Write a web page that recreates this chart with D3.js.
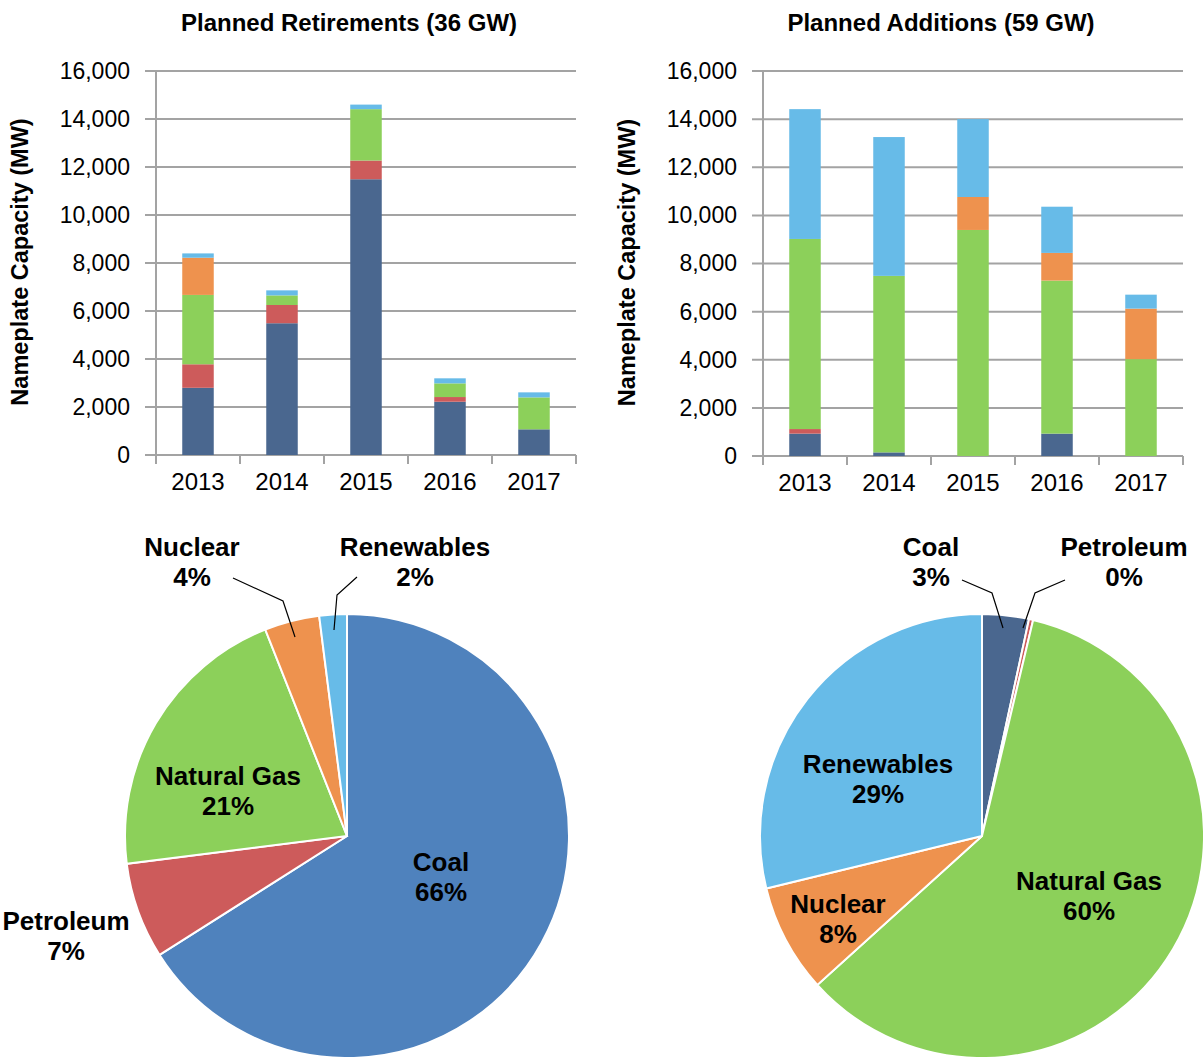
<!DOCTYPE html>
<html>
<head>
<meta charset="utf-8">
<script src="https://cdn.jsdelivr.net/npm/d3@7"></script>
<style>
  body { margin: 0; background: #fff; }
  text { font-family: "Liberation Sans", Arial, sans-serif; fill: #000; }
</style>
</head>
<body>
<div id="grafico"></div>
<script>
// datos
const years = ["2013", "2014", "2015", "2016", "2017"];
const fuels = ["Coal", "Petroleum", "Natural Gas", "Nuclear", "Renewables"];
const yTicks = [0, 2000, 4000, 6000, 8000, 10000, 12000, 14000, 16000];

// planned retirements (MW)
const retireCoal = [2800, 5490, 11490, 2220, 1070];
const retirePetroleum = [980, 760, 780, 195, 0];
const retireGas = [2890, 400, 2140, 570, 1330];
const retireNuclear = [1550, 0, 0, 0, 0];
const retireRenewables = [180, 210, 190, 210, 210];

// planned additions (MW)
const addCoal = [930, 150, 0, 930, 0];
const addPetroleum = [190, 0, 0, 0, 0];
const addGas = [7900, 7335, 9394, 6360, 4025];
const addNuclear = [0, 0, 1370, 1150, 2100];
const addRenewables = [5395, 5770, 3237, 1920, 580];

// shares shown in the pies (%)
const retireShare = [66, 7, 21, 4, 2];
const addShare = [3.4, 0.3, 59.6, 7.9, 28.8];
const retireShareLabels = ["66%", "7%", "21%", "4%", "2%"];
const addShareLabels = ["3%", "0%", "60%", "8%", "29%"];

// estilos
const barColors = ["#4A678F", "#CD5B5B", "#8CD05A", "#EE924E", "#67BBE8"];
const pieColorsLeft = ["#4F82BD", "#CD5B5B", "#8CD05A", "#EE924E", "#67BBE8"];
const GRID = "#a3a3a3";

const WIDTH = 1203;
const HEIGHT = 1057;
const PLOT_W = 420;

const SVG = d3.select("#grafico").append("svg").attr("width", WIDTH).attr("height", HEIGHT);

function rows(series) {
    return years.map(function(y, i) {
        var r = { year: y };
        fuels.forEach(function(f, k) { r[f] = series[k][i]; });
        return r;
    });
}

function barChart(left, top, h, title, titleShift, series) {
    var g = SVG.append("g").attr("transform", "translate(" + left + "," + top + ")");

    var x = d3.scaleBand().domain(years).range([0, PLOT_W]).paddingInner(0.625).paddingOuter(0.3125);
    var y = d3.scaleLinear().domain([0, 16000]).range([h, 0]);

    // gridlines + tick stubs
    g.selectAll(".grid").data(yTicks).enter().append("line")
        .attr("x1", -11).attr("x2", PLOT_W)
        .attr("y1", d => y(d)).attr("y2", d => y(d))
        .attr("stroke", GRID).attr("stroke-width", 2);

    var ejeY = d3.axisLeft(y).tickValues(yTicks).tickFormat(d3.format(",")).tickSize(0).tickPadding(26);
    g.append("g").call(ejeY).call(s => s.select(".domain").remove())
        .selectAll("text").style("font-size", "23px").attr("fill", "#111");

    var stack = d3.stack().keys(fuels)(rows(series));
    stack.forEach(function(layer, k) {
        g.selectAll(".b" + k).data(layer).enter().append("rect")
            .attr("x", d => x(d.data.year))
            .attr("y", d => y(d[1]))
            .attr("width", x.bandwidth())
            .attr("height", d => y(d[0]) - y(d[1]))
            .attr("fill", barColors[k]);
    });

    // ejes
    g.append("line").attr("x1", 0).attr("x2", 0).attr("y1", 0).attr("y2", h + 9)
        .attr("stroke", GRID).attr("stroke-width", 2);
    var step = x.step();
    g.selectAll(".xt").data(d3.range(1, years.length + 1)).enter().append("line")
        .attr("x1", d => d * step).attr("x2", d => d * step)
        .attr("y1", h).attr("y2", h + 9)
        .attr("stroke", GRID).attr("stroke-width", 2);

    var ejeX = d3.axisBottom(x).tickSize(0).tickPadding(18);
    g.append("g").attr("transform", "translate(0," + h + ")").call(ejeX)
        .call(s => s.select(".domain").remove())
        .selectAll("text").style("font-size", "24px").attr("fill", "#111");

    g.append("text")
        .attr("x", PLOT_W / 2 + titleShift).attr("y", -40)
        .attr("text-anchor", "middle")
        .style("font-size", "24px").style("font-weight", "bold")
        .text(title);

    g.append("text")
        .attr("transform", "translate(-128," + (h / 2 - 1) + ") rotate(-90)")
        .attr("text-anchor", "middle")
        .style("font-size", "23.5px").style("font-weight", "bold")
        .text("Nameplate Capacity (MW)");
}

barChart(156, 71, 384, "Planned Retirements (36 GW)", -17,
    [retireCoal, retirePetroleum, retireGas, retireNuclear, retireRenewables]);
barChart(763, 71, 385, "Planned Additions (59 GW)", -32,
    [addCoal, addPetroleum, addGas, addNuclear, addRenewables]);

// tortas
function pieChart(cx, cy, shares, colors, pctLabels, labelPos, leaders) {
    var g = SVG.append("g").attr("transform", "translate(" + cx + "," + cy + ")");
    var pie = d3.pie().sort(null);
    var arco = d3.arc().innerRadius(0).outerRadius(222);

    g.selectAll("path").data(pie(shares)).enter().append("path")
        .attr("d", arco)
        .attr("fill", (d, i) => colors[i])
        .attr("stroke", "#fff").attr("stroke-width", 2);

    g.selectAll(".leader").data(leaders).enter().append("polyline")
        .attr("points", d => d.map(p => p.join(",")).join(" "))
        .attr("fill", "none").attr("stroke", "#000").attr("stroke-width", 1.2);

    var lab = g.selectAll(".lab").data(fuels).enter().append("text")
        .attr("text-anchor", "middle")
        .attr("transform", (d, i) => "translate(" + labelPos[i][0] + "," + labelPos[i][1] + ")")
        .style("font-size", "26px").style("font-weight", "bold");
    lab.append("tspan").attr("x", 0).attr("y", 0).text(d => d);
    lab.append("tspan").attr("x", 0).attr("y", 30).text((d, i) => pctLabels[i]);
}

pieChart(347, 836, retireShare, pieColorsLeft, retireShareLabels,
    [[94, 35], [-281, 94], [-119, -51], [-155, -280], [68, -280]],
    [[[-114, -258], [-64, -235], [-52, -199]], [[10, -259], [-10, -241], [-13, -206]]]);

pieChart(982, 836, addShare, barColors, addShareLabels,
    [[-51, -280], [142, -280], [107, 54], [-144, 77], [-104, -63]],
    [[[-20, -256], [10, -243], [21, -208]], [[83, -256], [53, -243], [41, -208]]]);
</script>
</body>
</html>
